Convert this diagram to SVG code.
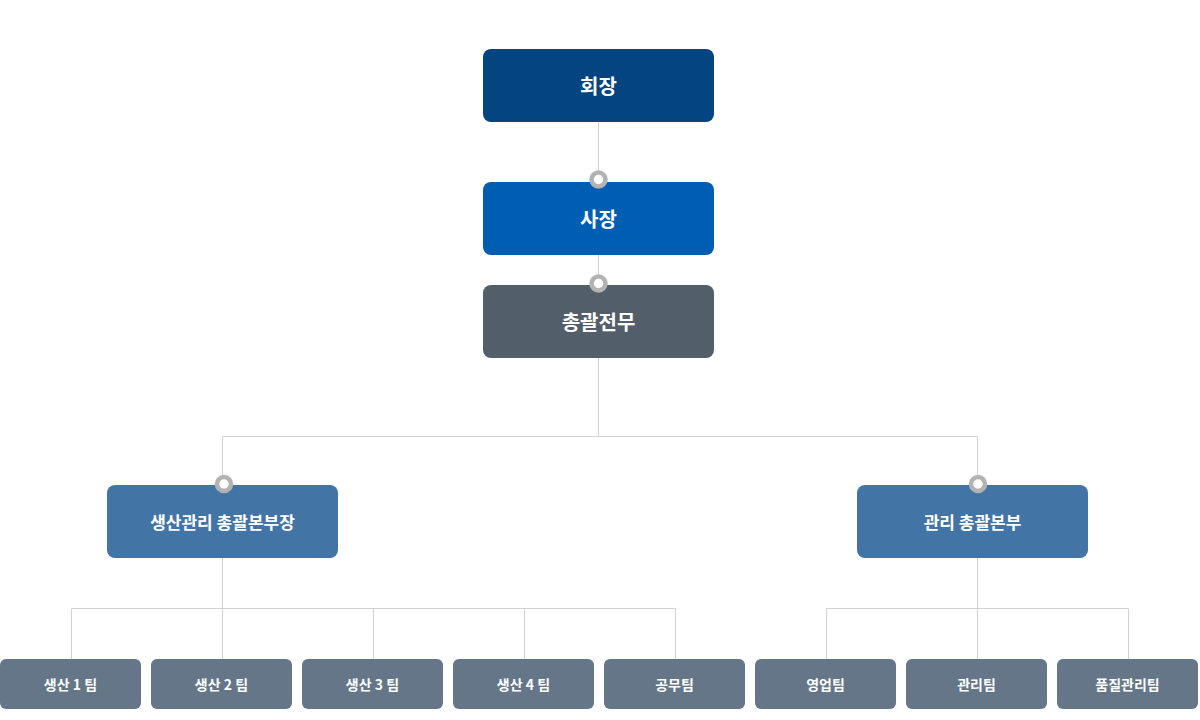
<svg xmlns="http://www.w3.org/2000/svg" width="1200" height="720" viewBox="0 0 1200 720">
<style>
text{font-family:"Noto Sans CJK KR","Noto Sans",sans-serif;font-weight:bold;fill:#fff;text-anchor:middle;dominant-baseline:central}
.l{stroke:#d2d2d2;stroke-width:1;fill:none}
.t1{font-size:20px}
.t2{font-size:17px}
.t3{font-size:14px}
.leaf{fill:#647687}
.dot{fill:#fff;stroke:#b3b3b3;stroke-width:4.5}
</style>
<rect width="1200" height="720" fill="#fff"/>
<g id="connectors">
<path class="l" d="M598.5 122V182M598.5 255V285M598.5 358V436.5M222.5 436.5H977.5M222.5 436.5V485M977.5 436.5V485"/>
<path class="l" d="M222.5 558V608.5M71.5 608.5H675.5M71.5 608.5V659M222.5 608.5V659M373.5 608.5V659M524.5 608.5V659M675.5 608.5V659"/>
<path class="l" d="M977.5 558V608.5M826.5 608.5H1128.5M826.5 608.5V659M977.5 608.5V659M1128.5 608.5V659"/>
</g>
<g id="n-chairman"><rect x="483" y="49" width="231" height="73" rx="8" fill="#034481"/><text class="t1" x="598.5" y="85.5">회장</text></g>
<g id="n-president"><rect x="483" y="182" width="231" height="73" rx="8" fill="#005eb2"/><text class="t1" x="598.5" y="218.5">사장</text></g>
<g id="n-exec"><rect x="483" y="285" width="231" height="73" rx="8" fill="#525e6a"/><text class="t1" x="598.5" y="321.5">총괄전무</text></g>
<g id="n-prod"><rect x="107" y="485" width="231" height="73" rx="8" fill="#4275a5"/><text class="t2" x="222.5" y="521.5">생산관리 총괄본부장</text></g>
<g id="n-admin"><rect x="857" y="485" width="231" height="73" rx="8" fill="#4275a5"/><text class="t2" x="972.5" y="521.5">관리 총괄본부</text></g>
<g id="dots">
<circle class="dot" cx="598.5" cy="179.5" r="7"/>
<circle class="dot" cx="598.5" cy="283.5" r="7"/>
<circle class="dot" cx="224" cy="484" r="7"/>
<circle class="dot" cx="978" cy="484" r="7"/>
</g>
<g id="n-p1"><rect class="leaf" x="0" y="659" width="141" height="50" rx="6"/><text class="t3" x="70.5" y="684">생산 1 팀</text></g>
<g id="n-p2"><rect class="leaf" x="151" y="659" width="141" height="50" rx="6"/><text class="t3" x="221.5" y="684">생산 2 팀</text></g>
<g id="n-p3"><rect class="leaf" x="302" y="659" width="141" height="50" rx="6"/><text class="t3" x="372.5" y="684">생산 3 팀</text></g>
<g id="n-p4"><rect class="leaf" x="453" y="659" width="141" height="50" rx="6"/><text class="t3" x="523.5" y="684">생산 4 팀</text></g>
<g id="n-works"><rect class="leaf" x="604" y="659" width="141" height="50" rx="6"/><text class="t3" x="674.5" y="684">공무팀</text></g>
<g id="n-sales"><rect class="leaf" x="755" y="659" width="141" height="50" rx="6"/><text class="t3" x="825.5" y="684">영업팀</text></g>
<g id="n-mgmt"><rect class="leaf" x="906" y="659" width="141" height="50" rx="6"/><text class="t3" x="976.5" y="684">관리팀</text></g>
<g id="n-qa"><rect class="leaf" x="1057" y="659" width="141" height="50" rx="6"/><text class="t3" x="1127.5" y="684">품질관리팀</text></g>
</svg>
